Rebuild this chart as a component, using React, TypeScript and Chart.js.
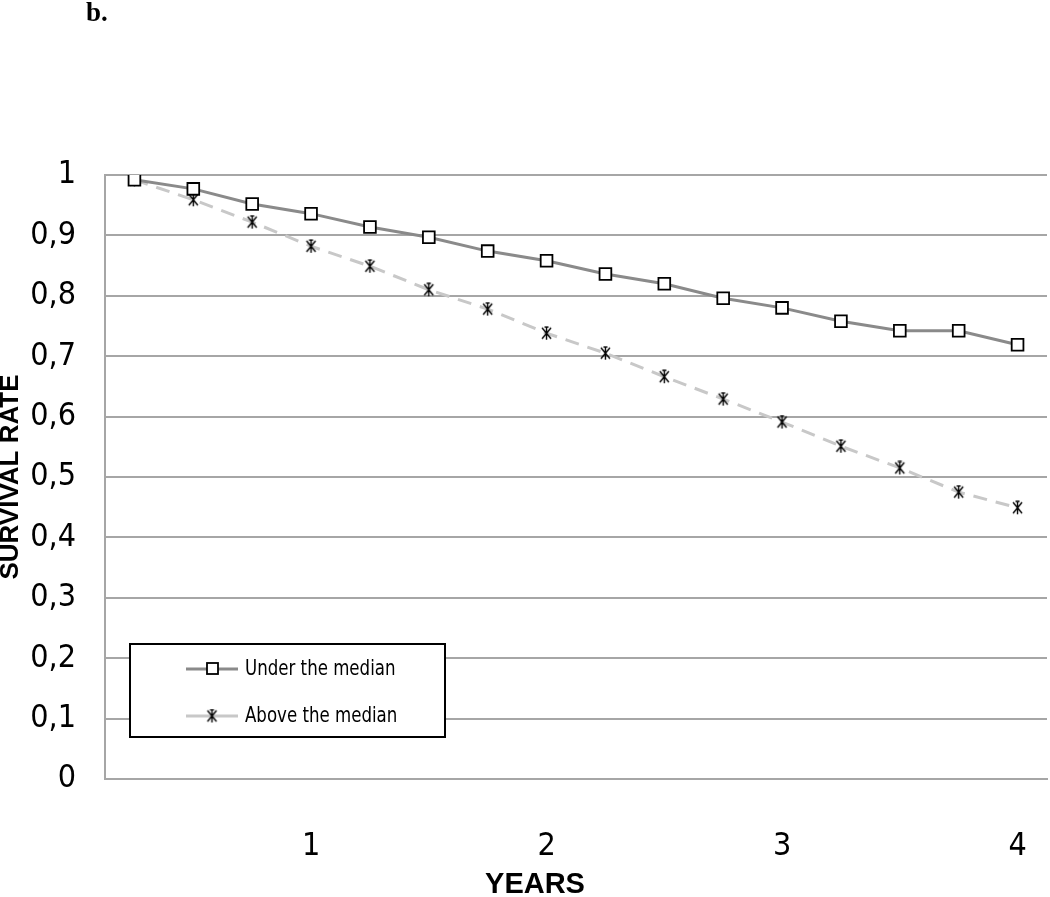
import React, { useEffect, useRef } from "react";
import { Chart, registerables } from "chart.js";

Chart.register(...registerables);

const categories = ["0.25", "0.5", "0.75", "1", "1.25", "1.5", "1.75", "2", "2.25", "2.5", "2.75", "3", "3.25", "3.5", "3.75", "4"];
const tickLabels = ["1", "2", "3", "4"];
const underMedian = [0.992, 0.977, 0.952, 0.936, 0.914, 0.897, 0.874, 0.858, 0.836, 0.82, 0.796, 0.78, 0.758, 0.742, 0.742, 0.719];
const aboveMedian = [0.992, 0.959, 0.922, 0.882, 0.849, 0.81, 0.778, 0.738, 0.705, 0.666, 0.629, 0.591, 0.551, 0.515, 0.475, 0.449];
const seriesNames = ["Under the median", "Above the median"];
const panelLabel = "b.";
const xTitle = "YEARS";
const yTitle = "SURVIVAL RATE";

const NARROW = "'Liberation Sans Narrow', 'DejaVu Sans Condensed', 'Arial Narrow', sans-serif";
const BOLD = "'Liberation Sans', Arial, sans-serif";
const GRID = "#a6a6a6";
const UNDER_COLOR = "#8a8a8a";
const ABOVE_COLOR = "#c8c8c8";

function makeAsterisk(): HTMLCanvasElement {
  const c = document.createElement("canvas");
  c.width = 13;
  c.height = 15;
  const g = c.getContext("2d")!;
  g.strokeStyle = "#000";
  g.lineWidth = 1.4;
  g.lineCap = "butt";
  g.beginPath();
  g.moveTo(6.5, 1);
  g.lineTo(6.5, 14);
  g.moveTo(2, 2);
  g.lineTo(11, 13);
  g.moveTo(11, 2);
  g.lineTo(2, 13);
  g.moveTo(4.5, 1.2);
  g.lineTo(8.5, 1.2);
  g.stroke();
  return c;
}

export default function App() {
  const ref = useRef<HTMLCanvasElement | null>(null);

  useEffect(() => {
    if (!ref.current) return;
    const star = makeAsterisk();

    const decorPlugin = {
      id: "decor",
      afterDraw(chart: any) {
        const ctx = chart.ctx as CanvasRenderingContext2D;
        ctx.save();
        // x axis title
        ctx.fillStyle = "#000";
        ctx.font = `bold 29px ${BOLD}`;
        ctx.textAlign = "center";
        ctx.textBaseline = "middle";
        ctx.fillText(xTitle, 535, 885);

        // legend box
        const bx = 130, by = 644, bw = 315, bh = 93;
        ctx.fillStyle = "#fff";
        ctx.fillRect(bx, by, bw, bh);
        ctx.strokeStyle = "#000";
        ctx.lineWidth = 2;
        ctx.strokeRect(bx, by, bw, bh);

        const rows = [
          { y: 669, color: UNDER_COLOR, kind: "square", text: seriesNames[0] },
          { y: 716, color: ABOVE_COLOR, kind: "star", text: seriesNames[1] },
        ];
        for (const r of rows) {
          ctx.strokeStyle = r.color;
          ctx.lineWidth = 3;
          ctx.beginPath();
          ctx.moveTo(186, r.y);
          ctx.lineTo(238, r.y);
          ctx.stroke();
          if (r.kind === "square") {
            ctx.fillStyle = "#fff";
            ctx.fillRect(207, r.y - 6, 11, 11);
            ctx.strokeStyle = "#000";
            ctx.lineWidth = 1.8;
            ctx.strokeRect(207, r.y - 6, 11, 11);
          } else {
            ctx.drawImage(star, 212 - star.width / 2, r.y - star.height / 2);
          }
          ctx.save();
          ctx.translate(245, r.y);
          ctx.scale(0.84, 1);
          ctx.fillStyle = "#000";
          ctx.font = `22px ${NARROW}`;
          ctx.textAlign = "left";
          ctx.textBaseline = "middle";
          ctx.fillText(r.text, 0, 0);
          ctx.restore();
        }
        ctx.restore();
      },
    };

    const chart = new Chart(ref.current, {
      type: "line",
      data: {
        labels: categories,
        datasets: [
          {
            label: seriesNames[0],
            data: underMedian,
            borderColor: UNDER_COLOR,
            borderWidth: 3,
            tension: 0,
            pointStyle: "rect",
            pointRadius: 8.3,
            pointBorderColor: "#000",
            pointBorderWidth: 1.8,
            pointBackgroundColor: "#fff",
          },
          {
            label: seriesNames[1],
            data: aboveMedian,
            borderColor: ABOVE_COLOR,
            borderWidth: 3,
            borderDash: [14, 9],
            tension: 0,
            pointStyle: star as any,
            pointRadius: 7,
          },
        ],
      },
      options: {
        responsive: false,
        animation: false,
        devicePixelRatio: 1,
        layout: { autoPadding: false, padding: { top: 175, right: 3, left: 0, bottom: 0 } },
        plugins: {
          legend: { display: false },
          tooltip: { enabled: false },
          title: { display: false },
        },
        scales: {
          x: {
            type: "category",
            offset: true,
            grid: { display: false },
            border: { display: true, color: GRID, width: 2 },
            ticks: {
              autoSkip: false,
              maxRotation: 0,
              padding: 40,
              color: "#000",
              font: { family: NARROW, size: 32 },
              callback: (_v: any, i: number) => {
                const c = categories[i];
                return tickLabels.includes(c) ? c : "";
              },
            },
            title: { display: false, text: xTitle },
            afterFit: (s: any) => {
              s.height = 118;
              s.paddingLeft = 0;
              s.paddingRight = 0;
            },
          },
          y: {
            min: 0,
            max: 1,
            grid: { color: GRID, lineWidth: 2, drawTicks: false },
            border: { display: true, color: GRID, width: 2 },
            ticks: {
              stepSize: 0.1,
              padding: 29,
              color: "#000",
              font: { family: NARROW, size: 32 },
              callback: (v: any) => {
                const n = Number(v);
                if (Math.abs(n - Math.round(n)) < 1e-9) return String(Math.round(n));
                return n.toFixed(1).replace(".", ",");
              },
            },
            title: {
              display: true,
              text: yTitle,
              color: "#000",
              font: { family: BOLD, size: 26, weight: "bold", lineHeight: 0.8 },
              padding: { top: 0, bottom: 0 },
            },
            afterFit: (s: any) => {
              s.width = 105;
            },
          },
        },
      },
      plugins: [decorPlugin],
    });

    return () => chart.destroy();
  }, []);

  return (
    <div style={{ position: "fixed", left: 0, top: 0, width: 1050, height: 897, background: "#fff" }}>
      <canvas ref={ref} width={1050} height={897} style={{ width: 1050, height: 897, display: "block" }} />
      <div
        style={{
          position: "absolute",
          left: 86,
          top: 0,
          fontFamily: "'Liberation Serif', 'Times New Roman', serif",
          fontWeight: "bold",
          fontSize: 27,
          lineHeight: "27px",
          color: "#000",
          marginTop: -1,
        }}
      >
        {panelLabel}
      </div>
    </div>
  );
}
